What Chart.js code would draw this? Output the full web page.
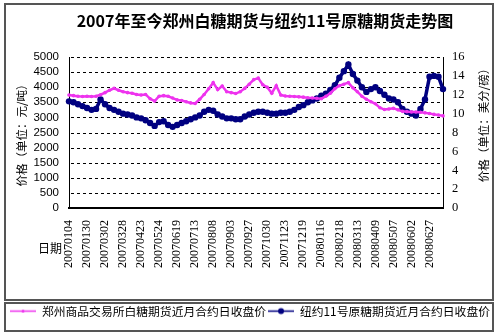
<!DOCTYPE html>
<html>
<head>
<meta charset="utf-8">
<script src="https://cdn.jsdelivr.net/npm/chart.js@4"></script>
<style>
  html, body { margin: 0; padding: 0; background: #fff; }
  #wrap { width: 500px; height: 332px; }
</style>
</head>
<body>
<div id="wrap"><canvas id="grafico" width="500" height="332"></canvas></div>
<script>
    // fechas de las etiquetas (una cada 4 puntos)
    const fechas = ['20070104', '20070130', '20070302', '20070328', '20070423', '20070524', '20070619',
        '20070713', '20070808', '20070903', '20070927', '20071030', '20071123', '20071219',
        '20080116', '20080218', '20080313', '20080409', '20080507', '20080602', '20080627'];
    const pasoEtiqueta = 4;

    // 郑州白糖 (元/吨)
    const zhengzhou = [3740, 3720, 3700, 3690, 3700, 3690, 3700, 3750, 3820, 3900,
        3960, 3900, 3850, 3820, 3800, 3760, 3740, 3760, 3620, 3540,
        3700, 3720, 3700, 3640, 3580, 3560, 3520, 3480, 3460, 3600,
        3760, 3950, 4150, 3920, 4040, 3850, 3820, 3790, 3850, 3960,
        4100, 4250, 4300, 4080, 4000, 3800, 4050, 3740, 3710, 3700,
        3690, 3680, 3670, 3650, 3640, 3630, 3620, 3700, 3800, 3950,
        4050, 4100, 4150, 3980, 3850, 3700, 3600, 3520, 3450, 3320,
        3260, 3280, 3300, 3250, 3200, 3190, 3180, 3180, 3170, 3150,
        3130, 3100, 3080, 3050];

    // 纽约11号原糖 (美分/磅)
    const nuevaYork = [11.3, 11.2, 11.0, 10.8, 10.6, 10.4, 10.5, 11.5, 11.0, 10.6,
        10.4, 10.2, 10.0, 9.9, 9.8, 9.6, 9.5, 9.3, 9.0, 8.7,
        9.1, 9.2, 8.8, 8.6, 8.8, 9.0, 9.2, 9.4, 9.6, 9.8,
        10.2, 10.4, 10.3, 9.9, 9.7, 9.5, 9.5, 9.4, 9.4, 9.7,
        9.9, 10.1, 10.2, 10.2, 10.1, 10.0, 10.0, 10.1, 10.1, 10.2,
        10.4, 10.7, 10.9, 11.2, 11.4, 11.6, 11.9, 12.1, 12.5, 13.0,
        13.8, 14.5, 15.2, 14.2, 13.5, 12.8, 12.3, 12.6, 12.8, 12.4,
        12.0, 11.6, 11.5, 11.2, 10.5, 10.2, 10.0, 9.8, 10.5, 11.5,
        13.9, 14.0, 13.9, 12.6];

    const titulo = '2007年至今郑州白糖期货与纽约11号原糖期货走势图';
    const tituloIzq = '价格（单位：元/吨）';
    const tituloDer = '价格（单位：美分/磅）';
    const serieRosa = '郑州商品交易所白糖期货近月合约日收盘价';
    const serieAzul = '纽约11号原糖期货近月合约日收盘价';

    const rosa = '#ee33ee';
    const azul = '#000080';
    const cjk = '"Noto Sans CJK SC", sans-serif';

    const etiquetas = zhengzhou.map((v, i) => i % pasoEtiqueta === 0 ? (fechas[i / pasoEtiqueta] || '') : '');

    // marcador de leyenda: linea con punto
    function marcador(color, radio) {
        const c = document.createElement('canvas');
        c.width = 26; c.height = 9;
        const g = c.getContext('2d');
        g.strokeStyle = color; g.lineWidth = 1.5;
        g.beginPath(); g.moveTo(0, 4.5); g.lineTo(26, 4.5); g.stroke();
        g.fillStyle = color;
        g.beginPath(); g.arc(13, 4.5, radio, 0, Math.PI * 2); g.fill();
        return c;
    }
    const marcas = [marcador(rosa, 1.6), marcador(azul, 3)];

    // lineas punteadas: y de los ticks de la escala izquierda, ancho de la escala x
    function lineasGuia(chart) {
        const ctx = chart.ctx;
        const ex = chart.scales.x;
        const escala = chart.scales.y;
        const izq = Math.round(ex.left);
        const der = Math.round(ex.right);
        ctx.save();
        ctx.fillStyle = '#000';
        escala.ticks.forEach(t => {
            if (t.value === 0) return;
            const y = Math.round(escala.getPixelForValue(t.value));
            for (let x = izq + 2; x < der - 1; x += 6) {
                ctx.fillRect(x, y, Math.min(3, der - 1 - x), 1);
            }
        });
        ctx.restore();
    }

    // marcos, titulo y textos extra
    const decoracion = {
        id: 'decoracion',
        beforeDraw(chart) {
            const ctx = chart.ctx;
            ctx.save();
            ctx.strokeStyle = '#555';
            ctx.lineWidth = 2;
            ctx.strokeRect(5, 4, 488, 296);
            ctx.strokeRect(5, 303, 488, 28);
            ctx.restore();
        },
        beforeDatasetsDraw(chart) {
            lineasGuia(chart);
        },
        afterDraw(chart) {
            const ctx = chart.ctx;
            const ey = chart.scales.y;
            ctx.save();
            ctx.fillStyle = '#000';
            ctx.textAlign = 'center';
            ctx.textBaseline = 'middle';
            ctx.font = 'bold 16px ' + cjk;
            ctx.fillText(titulo, 265, 21);
            ctx.font = '12px ' + cjk;
            ctx.fillText('日期', 50, 248);
            ctx.translate(484, (ey.top + ey.bottom) / 2 - 10);
            ctx.rotate(-Math.PI / 2);
            ctx.font = '11.5px ' + cjk;
            ctx.fillText(tituloDer, 0, 0);
            ctx.restore();
        }
    };

    new Chart(document.getElementById('grafico'), {
        type: 'line',
        data: {
            labels: etiquetas,
            datasets: [{
                label: serieRosa,
                data: zhengzhou,
                yAxisID: 'y',
                borderColor: rosa,
                backgroundColor: rosa,
                borderWidth: 2.5,
                pointRadius: 1.8,
                pointBorderWidth: 0,
                fill: false,
                tension: 0
            }, {
                label: serieAzul,
                data: nuevaYork,
                yAxisID: 'y1',
                borderColor: azul,
                backgroundColor: azul,
                borderWidth: 3.5,
                pointRadius: 3.2,
                pointBorderWidth: 0,
                fill: false,
                tension: 0
            }]
        },
        options: {
            responsive: false,
            animation: false,
            layout: { padding: { top: 57, left: 0, right: 0, bottom: 5 } },
            plugins: {
                title: { display: false },
                tooltip: { enabled: false },
                legend: {
                    display: true,
                    position: 'bottom',
                    labels: {
                        usePointStyle: true,
                        pointStyleWidth: 26,
                        padding: 2,
                        color: '#000',
                        font: { size: 11.8, family: cjk },
                        generateLabels(chart) {
                            const base = Chart.defaults.plugins.legend.labels.generateLabels(chart);
                            base.forEach((l, i) => { l.pointStyle = marcas[i]; });
                            return base;
                        }
                    }
                }
            },
            scales: {
                x: {
                    type: 'category',
                    offset: false,
                    afterFit(scale) {
                        const alto = scale.chart.legend ? scale.chart.legend.height : 17;
                        scale.height = 332 - 208 - alto - 5;
                    },
                    border: { display: true, color: '#000', width: 2 },
                    grid: { display: false },
                    ticks: {
                        autoSkip: false,
                        minRotation: 90,
                        maxRotation: 90,
                        padding: 4,
                        color: '#000',
                        font: { size: 12, family: '"Liberation Serif", serif' }
                    }
                },
                y: {
                    position: 'left',
                    min: 0,
                    max: 5000,
                    afterFit(scale) { scale.width = 69; },
                    border: { display: true, color: '#000', width: 1 },
                    grid: { drawOnChartArea: false, drawTicks: false },
                    title: {
                        display: true,
                        text: tituloIzq,
                        color: '#000',
                        font: { size: 11.5, family: cjk },
                        padding: { top: 15, bottom: 0 }
                    },
                    ticks: {
                        stepSize: 500,
                        autoSkip: false,
                        padding: 10,
                        color: '#000',
                        callback: v => String(v),
                        font: { size: 11.5, family: '"Liberation Sans", sans-serif' }
                    }
                },
                y1: {
                    position: 'right',
                    min: 0,
                    max: 16,
                    afterFit(scale) { scale.width = 57; },
                    border: { display: true, color: '#000', width: 1 },
                    grid: { drawOnChartArea: false, drawTicks: false },
                    ticks: {
                        stepSize: 2,
                        autoSkip: false,
                        padding: 9,
                        color: '#000',
                        font: { size: 12.5, family: '"Liberation Serif", serif' }
                    }
                }
            }
        },
        plugins: [decoracion]
    });
</script>
</body>
</html>
